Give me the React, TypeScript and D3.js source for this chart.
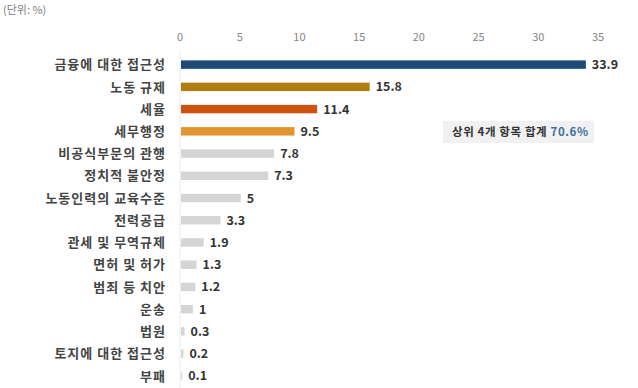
import React, { useEffect, useRef } from 'react';
import * as d3 from 'd3';

const categories = [
  '금융에 대한 접근성',
  '노동 규제',
  '세율',
  '세무행정',
  '비공식부문의 관행',
  '정치적 불안정',
  '노동인력의 교육수준',
  '전력공급',
  '관세 및 무역규제',
  '면허 및 허가',
  '범죄 등 치안',
  '운송',
  '법원',
  '토지에 대한 접근성',
  '부패',
];
const values = [33.9, 15.8, 11.4, 9.5, 7.8, 7.3, 5, 3.3, 1.9, 1.3, 1.2, 1, 0.3, 0.2, 0.1];
const barColors = ['#1d4a76', '#b07d10', '#cc5310', '#e0952f'];
const tickValues = [0, 5, 10, 15, 20, 25, 30, 35];

const FONT = "'Noto Sans CJK KR', 'Noto Sans', sans-serif";

const App = () => {
  const svgRef = useRef<SVGSVGElement>(null);

  useEffect(() => {
    const width = 638;
    const height = 388;
    const svg = d3.select(svgRef.current);
    svg.selectAll('*').remove();
    svg.attr('width', width).attr('height', height);

    svg.append('rect').attr('width', width).attr('height', height).attr('fill', '#fff');

    const x = d3.scaleLinear().domain([0, 35]).range([180, 598]);
    const y = d3.scaleBand<string>()
      .domain(categories)
      .range([53.5, 387])
      .paddingInner(0.62)
      .paddingOuter(0.31);

    // unit label
    svg.append('text')
      .attr('x', 3)
      .attr('y', 14)
      .style('font-family', FONT)
      .style('font-size', '11px')
      .style('fill', '#808080')
      .text('(단위: %)');

    // axis ticks on top
    svg.append('g')
      .selectAll('text')
      .data(tickValues)
      .join('text')
      .attr('x', d => x(d))
      .attr('y', 41)
      .attr('text-anchor', 'middle')
      .style('font-family', FONT)
      .style('font-size', '11px')
      .style('fill', '#858585')
      .text(d => d);

    // baseline
    svg.append('line')
      .attr('x1', x(0))
      .attr('x2', x(0))
      .attr('y1', 52)
      .attr('y2', 388)
      .attr('stroke', '#ececec')
      .attr('stroke-width', 1);

    const rows = svg.append('g')
      .selectAll('g')
      .data(categories)
      .join('g');

    rows.append('rect')
      .attr('x', x(0) + 1)
      .attr('y', d => y(d)!)
      .attr('width', (d, i) => x(values[i]) - x(0))
      .attr('height', y.bandwidth())
      .attr('fill', (d, i) => barColors[i] || '#d5d5d5');

    rows.append('text')
      .attr('x', 166)
      .attr('y', d => y(d)! + y.bandwidth() / 2)
      .attr('dy', '0.36em')
      .attr('text-anchor', 'end')
      .style('font-family', FONT)
      .style('font-size', '13px')
      .style('letter-spacing', '1px')
      .style('font-weight', 600)
      .style('fill', '#444')
      .text(d => d);

    rows.append('text')
      .attr('x', (d, i) => x(values[i]) + 7)
      .attr('y', d => y(d)! + y.bandwidth() / 2)
      .attr('dy', '0.36em')
      .style('font-family', FONT)
      .style('font-size', '12.5px')
      .style('font-weight', 700)
      .style('fill', '#333')
      .text((d, i) => values[i]);

    // annotation box
    const note = svg.append('g');
    note.append('rect')
      .attr('x', 443)
      .attr('y', 121)
      .attr('width', 151)
      .attr('height', 22)
      .attr('fill', '#f1f1f1');
    const noteText = note.append('text')
      .attr('x', 452)
      .attr('y', 132)
      .attr('dy', '0.36em')
      .style('font-family', FONT)
      .style('font-size', '11.5px')
      .style('letter-spacing', '0.6px')
      .style('font-weight', 700);
    noteText.append('tspan').style('fill', '#333').text('상위 4개 항목 합계 ');
    noteText.append('tspan').style('fill', '#3d6f9e').text('70.6%');
  }, []);

  return <svg ref={svgRef} style={{ position: 'absolute', left: 0, top: 0 }}></svg>;
};

export default App;
